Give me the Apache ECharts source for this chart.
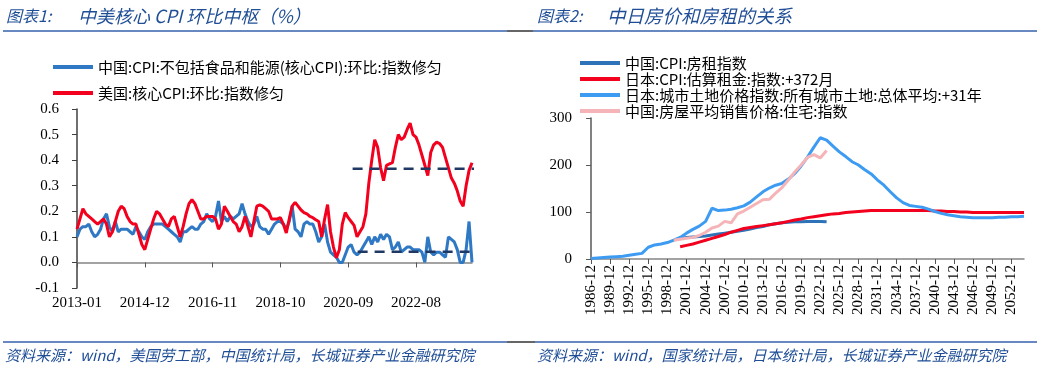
<!DOCTYPE html>
<html>
<head>
<meta charset="utf-8">
<script src="https://cdn.jsdelivr.net/npm/echarts@6/dist/echarts.min.js"></script>
<style>
html,body{margin:0;padding:0;background:#fff;}
#chart{width:1040px;height:369px;}
</style>
</head>
<body>
<div id="chart"></div>
<script>
// ---------- Left chart: monthly, 2013-01 .. 2024-03 ----------
const monthStart = [2013, 1];
const monthCount = 135;
const months = [];
for (let k = 0; k < monthCount; k++) {
  const y = monthStart[0] + Math.floor((monthStart[1] - 1 + k) / 12);
  const m = (monthStart[1] - 1 + k) % 12 + 1;
  months.push(y + '-' + (m < 10 ? '0' + m : m));
}
const chinaCoreCPI = [
  0.10,0.13,0.14,0.14,0.15,0.12,0.10,0.11,0.13,0.17,
  0.19,0.14,0.12,0.16,0.12,0.13,0.13,0.13,0.12,0.11,
  0.14,0.12,0.10,0.09,0.12,0.14,0.15,0.15,0.15,0.15,
  0.14,0.13,0.12,0.11,0.10,0.08,0.12,0.12,0.13,0.14,
  0.13,0.13,0.15,0.16,0.19,0.17,0.16,0.18,0.24,0.16,
  0.18,0.16,0.18,0.17,0.18,0.19,0.23,0.19,0.16,0.14,
  0.15,0.18,0.14,0.13,0.13,0.11,0.13,0.15,0.16,0.16,
  0.15,0.13,0.16,0.22,0.13,0.12,0.10,0.15,0.16,0.15,
  0.15,0.12,0.08,0.10,0.15,0.08,0.04,0.03,0.02,0.00,
  0.00,0.03,0.06,0.07,0.04,0.03,0.04,0.06,0.08,0.10,
  0.07,0.10,0.08,0.11,0.09,0.11,0.10,0.05,0.06,0.08,
  0.04,0.05,0.06,0.06,0.05,0.05,0.05,0.04,0.00,0.10,
  0.04,0.03,0.04,0.04,0.03,0.02,0.10,0.09,0.08,0.05,
  0.00,0.00,0.05,0.16,0.00
];
const usCoreCPI = [
  0.13,0.17,0.21,0.19,0.18,0.17,0.16,0.15,0.16,0.17,
  0.15,0.10,0.12,0.16,0.20,0.22,0.21,0.18,0.16,0.15,
  0.15,0.11,0.07,0.05,0.09,0.13,0.17,0.20,0.19,0.17,
  0.15,0.14,0.17,0.18,0.14,0.10,0.14,0.19,0.23,0.245,
  0.23,0.20,0.17,0.17,0.18,0.18,0.18,0.17,0.13,0.15,
  0.22,0.20,0.18,0.16,0.15,0.12,0.14,0.18,0.14,0.10,
  0.16,0.22,0.225,0.22,0.21,0.20,0.17,0.17,0.17,0.175,
  0.15,0.115,0.17,0.22,0.235,0.22,0.205,0.195,0.19,0.18,
  0.175,0.167,0.16,0.10,0.17,0.226,0.12,0.06,0.018,0.05,
  0.15,0.195,0.175,0.16,0.145,0.10,0.12,0.14,0.19,0.31,
  0.40,0.48,0.45,0.37,0.32,0.38,0.385,0.39,0.45,0.50,
  0.48,0.49,0.52,0.545,0.50,0.49,0.46,0.42,0.38,0.34,
  0.43,0.46,0.47,0.465,0.45,0.41,0.37,0.33,0.31,0.28,
  0.24,0.22,0.30,0.36,0.39
];
// level lines (x in month index, y value)
const usLevel = [[93.5, 0.366], [136.6, 0.366]];
const cnLevel = [[95.2, 0.042], [138.3, 0.042]];
const leftYTicks = { min: -0.1, max: 0.6, step: 0.1 };

// ---------- Right chart: annual, 1986-12 .. 2054-12 ----------
const yearStart = 1986, yearEnd = 2054;
const years = [];
for (let y = yearStart; y <= yearEnd; y++) years.push(y + '-12');
const N = null;
const chinaRent = [
  N,N,N,N,N,N,N,N,N,N, N,N,N,N,
  43,46,47,48,49,51,53,55,57,59,61,64,67,69,73,75,77,78,79,79,80,80,80,79
];
const japanRent = [
  N,N,N,N,N,N,N,N,N,N, N,N,N,N,
  26,29,32,36,40,44,48,52,57,61,65,67,69,71,73,75,77,80,83,85,
  88,90,92,94,96,97,99,100,101,102,103,103,103,103,103,103,103,103,103,103,
  102,102,101,101,100,100,99,99,99,99,99,99,99,99,99
];
const japanLand = [
  1,2,3,4,5,6,8,10,12,25,
  30,32,35,40,46,55,63,70,80,108,
  103,104,106,109,113,121,132,143,151,157,
  161,170,182,198,217,238,258,253,240,228,
  218,207,200,190,181,168,157,143,130,120,
  114,112,110,106,101,97,94,92,90,89,
  88,88,88,88,89,89,90,90,91
];
const chinaHousePrice = [
  N,N,N,N,N,N,N,N,N,N, N,N,N,
  40,42,44,46,50,57,66,70,80,77,96,102,110,118,126,127,140,152,168,185,200,216,222,215,231
];
const rightYTicks = { min: 0, max: 300, step: 100 };

// ---------- styles ----------
const numFont = '"Liberation Serif", "DejaVu Serif", serif';
const cjkFont = '"Noto Sans CJK SC", "Noto Sans", sans-serif';
const titleBlue = '#1f4e96';
const ruleBlue = '#3461ad';

const chart = echarts.init(document.getElementById('chart'), null, { renderer: 'canvas' });

const option = {
  backgroundColor: '#ffffff',
  animation: false,
  legend: [
    {
      data: ['中国:CPI:不包括食品和能源(核心CPI):环比:指数修匀', '美国:核心CPI:环比:指数修匀'],
      orient: 'vertical', left: 48, top: 54, itemGap: 10,
      itemWidth: 40, itemHeight: 4, icon: 'rect',
      textStyle: { fontFamily: cjkFont, fontSize: 15, color: '#000', lineHeight: 16 }
    },
    {
      data: ['中国:CPI:房租指数', '日本:CPI:估算租金:指数:+372月', '日本:城市土地价格指数:所有城市土地:总体平均:+31年', '中国:房屋平均销售价格:住宅:指数'],
      orient: 'vertical', left: 575, top: 50, itemGap: 0,
      itemWidth: 40, itemHeight: 4, icon: 'rect',
      textStyle: { fontFamily: cjkFont, fontSize: 15, color: '#000', lineHeight: 16 }
    }
  ],
  grid: [
    { left: 77, right: 1040 - 472, top: 109, bottom: 369 - 288 },
    { left: 591, right: 1040 - 1024, top: 118, bottom: 369 - 259 }
  ],
  xAxis: [
    {
      gridIndex: 0, type: 'category', data: months, boundaryGap: false, position: 'bottom',
      axisLine: { show: false, onZero: false }, axisTick: { show: false },
      axisLabel: { interval: 22, margin: 8, fontFamily: numFont, fontSize: 15, color: '#000' },
      splitLine: { show: false }
    },
    {
      gridIndex: 0, type: 'category', data: months, boundaryGap: false, position: 'bottom',
      axisLine: { show: true, onZero: true, lineStyle: { color: '#858585', width: 1.5 } },
      axisTick: { show: true, interval: 22, length: 5, inside: false, lineStyle: { color: '#555' } },
      axisLabel: { show: false }, splitLine: { show: false }
    },
    {
      gridIndex: 0, type: 'value', min: 0, max: monthCount - 1, show: false
    },
    {
      gridIndex: 1, type: 'category', data: years, boundaryGap: false, position: 'bottom',
      axisLine: { show: true, onZero: false, lineStyle: { color: '#858585', width: 1.5 } },
      axisTick: { show: true, interval: 2, length: 5, inside: false, lineStyle: { color: '#555' } },
      axisLabel: { interval: 2, rotate: 90, margin: 6, fontFamily: numFont, fontSize: 15, color: '#000' },
      splitLine: { show: false }
    }
  ],
  yAxis: [
    {
      gridIndex: 0, type: 'value', min: leftYTicks.min, max: leftYTicks.max, interval: leftYTicks.step,
      axisLine: { show: true, onZero: false, lineStyle: { color: '#404040', width: 1.5 } },
      axisTick: { show: true, length: 5, inside: false, lineStyle: { color: '#404040' } },
      axisLabel: { margin: 18, fontFamily: numFont, fontSize: 15, color: '#000',
        formatter: v => (Math.round(v * 10) / 10).toFixed(1) },
      splitLine: { show: false }
    },
    {
      gridIndex: 1, type: 'value', min: rightYTicks.min, max: rightYTicks.max, interval: rightYTicks.step,
      axisLine: { show: true, onZero: false, lineStyle: { color: '#595959', width: 1.5 } },
      axisTick: { show: true, length: 5, inside: false, lineStyle: { color: '#595959' } },
      axisLabel: { margin: 19, fontFamily: numFont, fontSize: 15, color: '#000' },
      splitLine: { show: false }
    }
  ],
  series: [
    {
      name: '中国:CPI:不包括食品和能源(核心CPI):环比:指数修匀', type: 'line',
      xAxisIndex: 0, yAxisIndex: 0, data: chinaCoreCPI, showSymbol: false, symbol: 'none',
      color: '#2f78c4', lineStyle: { width: 3, color: '#2f78c4' }
    },
    {
      name: '美国:核心CPI:环比:指数修匀', type: 'line',
      xAxisIndex: 0, yAxisIndex: 0, data: usCoreCPI, showSymbol: false, symbol: 'none',
      color: '#f2001d', lineStyle: { width: 3, color: '#f2001d' }
    },
    {
      name: 'usLevel', type: 'line', xAxisIndex: 2, yAxisIndex: 0, data: usLevel,
      symbol: 'none', clip: false, color: '#1f3864',
      lineStyle: { width: 2.5, type: [10, 7], color: '#1f3864' }
    },
    {
      name: 'cnLevel', type: 'line', xAxisIndex: 2, yAxisIndex: 0, data: cnLevel,
      symbol: 'none', clip: false, color: '#1f3864',
      lineStyle: { width: 2.5, type: [10, 7], color: '#1f3864' }
    },
    {
      name: '中国:CPI:房租指数', type: 'line', xAxisIndex: 3, yAxisIndex: 1, data: chinaRent,
      symbol: 'none', color: '#2e72b8', lineStyle: { width: 3, color: '#2e72b8' }
    },
    {
      name: '日本:CPI:估算租金:指数:+372月', type: 'line', xAxisIndex: 3, yAxisIndex: 1, data: japanRent,
      symbol: 'none', color: '#f2001d', lineStyle: { width: 3, color: '#f2001d' }
    },
    {
      name: '日本:城市土地价格指数:所有城市土地:总体平均:+31年', type: 'line', xAxisIndex: 3, yAxisIndex: 1, data: japanLand,
      symbol: 'none', color: '#3d9bf2', lineStyle: { width: 3, color: '#3d9bf2' }
    },
    {
      name: '中国:房屋平均销售价格:住宅:指数', type: 'line', xAxisIndex: 3, yAxisIndex: 1, data: chinaHousePrice,
      symbol: 'none', color: '#f5b5b8', lineStyle: { width: 3, color: '#f5b5b8' }
    }
  ],
  graphic: [
    { type: 'text', x: 6, y: 16, style: { text: '图表1:', fill: titleBlue, font: 'italic 16px ' + cjkFont, verticalAlign: 'middle' } },
    { type: 'text', x: 78, y: 16, style: { text: '中美核心 CPI 环比中枢（%）', fill: titleBlue, font: 'italic 18px ' + cjkFont, verticalAlign: 'middle' } },
    { type: 'text', x: 537, y: 16, style: { text: '图表2:', fill: titleBlue, font: 'italic 16px ' + cjkFont, verticalAlign: 'middle' } },
    { type: 'text', x: 607, y: 16, style: { text: '中日房价和房租的关系', fill: titleBlue, font: 'italic 18.5px ' + cjkFont, verticalAlign: 'middle' } },
    { type: 'line', shape: { x1: 3, y1: 31, x2: 507, y2: 31 }, style: { stroke: ruleBlue, lineWidth: 1.5 } },
    { type: 'line', shape: { x1: 507, y1: 31, x2: 533, y2: 31 }, style: { stroke: '#333', lineWidth: 1.5 } },
    { type: 'line', shape: { x1: 533, y1: 31, x2: 1037, y2: 31 }, style: { stroke: ruleBlue, lineWidth: 1.5 } },
    { type: 'line', shape: { x1: 3, y1: 342, x2: 507, y2: 342 }, style: { stroke: ruleBlue, lineWidth: 1.5 } },
    { type: 'line', shape: { x1: 507, y1: 342, x2: 535, y2: 342 }, style: { stroke: '#333', lineWidth: 1.5 } },
    { type: 'line', shape: { x1: 535, y1: 342, x2: 1037, y2: 342 }, style: { stroke: ruleBlue, lineWidth: 1.5 } },
    { type: 'text', x: 5, y: 355, style: { text: '资料来源：wind，美国劳工部，中国统计局，长城证券产业金融研究院', fill: titleBlue, font: 'italic 15px ' + cjkFont, verticalAlign: 'middle' } },
    { type: 'text', x: 537, y: 355, style: { text: '资料来源：wind，国家统计局，日本统计局，长城证券产业金融研究院', fill: titleBlue, font: 'italic 15px ' + cjkFont, verticalAlign: 'middle' } }
  ]
};
chart.setOption(option);
</script>
</body>
</html>
